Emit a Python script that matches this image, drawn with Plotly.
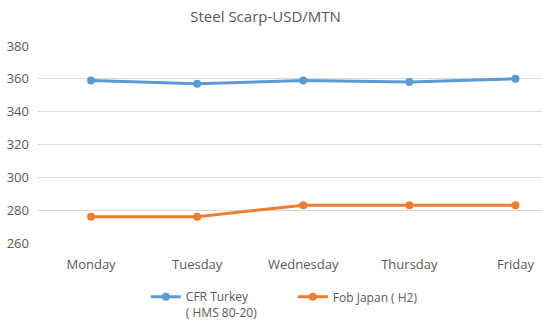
import plotly.graph_objects as go

days = ["Monday", "Tuesday", "Wednesday", "Thursday", "Friday"]
cfr_turkey = [359, 357, 359, 358, 360]
fob_japan = [276, 276, 283, 283, 283]
y_ticks = [260, 280, 300, 320, 340, 360, 380]

fig = go.Figure()
fig.add_trace(go.Scatter(
    x=list(range(len(days))), y=cfr_turkey, mode="lines+markers",
    name="CFR Turkey<br>( HMS 80-20)",
    line=dict(color="#5b9bd5", width=3), marker=dict(size=8, color="#5b9bd5")))
fig.add_trace(go.Scatter(
    x=list(range(len(days))), y=fob_japan, mode="lines+markers",
    name="Fob Japan ( H2)",
    line=dict(color="#ed7d31", width=3), marker=dict(size=8, color="#ed7d31")))

fig.update_layout(
    width=542, height=326,
    margin=dict(l=38, r=0, t=46, b=83, autoexpand=False),
    paper_bgcolor="white", plot_bgcolor="white",
    font=dict(family="Open Sans", size=13, color="#595959"),
    title=dict(text="Steel Scarp-USD/MTN", x=0.49, xanchor="center", y=0.95, yanchor="middle",
               font=dict(size=15, color="#595959")),
    xaxis=dict(range=[-0.5, 4.25], tickmode="array", tickvals=list(range(len(days))),
               ticktext=days, showgrid=False, zeroline=False,
               showline=False, ticks="", ticklabelstandoff=12),
    yaxis=dict(range=[260, 380], tickmode="array", tickvals=y_ticks,
               showgrid=True, gridcolor="#d9d9d9", gridwidth=1, zeroline=False,
               showline=False, ticks="", ticklabelstandoff=8),
    legend=dict(orientation="h", x=0.214, xanchor="left", y=-0.2, yanchor="top",
                font=dict(size=12, color="#595959"), itemwidth=30,
                entrywidth=102, entrywidthmode="pixels", valign="top"),
    showlegend=True,
)

fig.write_html("out.html")
